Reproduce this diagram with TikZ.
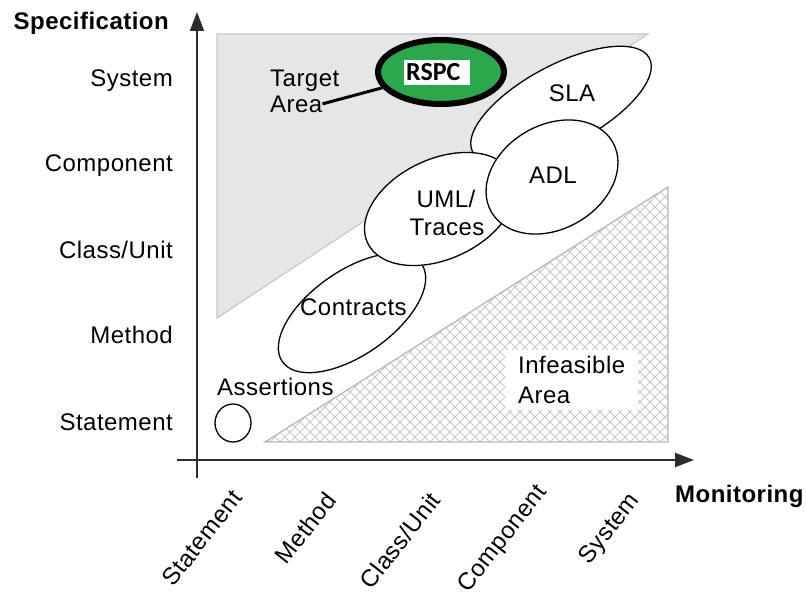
\documentclass[tikz,border=0pt]{standalone}
\usepackage{fontspec}
\setmainfont{Liberation Sans}[LetterSpace=2]
\newfontfamily\rspcfont{Carlito}
\usetikzlibrary{arrows.meta,shapes.geometric}

\definecolor{targetfill}{RGB}{230,230,230}
\definecolor{targetedge}{RGB}{200,200,200}
\definecolor{hatchgray}{RGB}{200,200,200}
\definecolor{infedge}{RGB}{185,185,185}
\definecolor{rspcgreen}{RGB}{43,168,74}
\definecolor{axisgray}{RGB}{45,45,45}

\begin{document}
\begin{tikzpicture}[x=1pt,y=-1pt,
  lbl/.style={font=\fontsize{24}{26}\selectfont, inner sep=0pt},
  boldlbl/.style={font=\fontsize{24}{26}\selectfont\bfseries, inner sep=0pt},
  axis/.style={draw=axisgray, line width=2pt, -{Triangle[length=19pt,width=14pt]}},
  blob/.style={draw=black, line width=1.3pt, fill=white},
  hatch/.style={draw=hatchgray, line width=0.9pt},
  xlbl/.style={lbl, rotate=52, anchor=north east}]

% canvas
\fill[white] (0,0) rectangle (806,594);
\useasboundingbox (0,0) rectangle (806,594);

% target area (upper grey triangle)
\filldraw[fill=targetfill, draw=targetedge, line width=1.2pt]
  (217,34) -- (648,34) -- (217,318) -- cycle;

% infeasible area (cross-hatched triangle)
\begin{scope}
  \clip (265,442) -- (668,442) -- (668,187) -- cycle;
  \foreach \a in {0,10,...,940} {
    \draw[hatch] (\a,442) -- ++(255,-255);
    \draw[hatch] (\a,442) -- ++(-255,-255);
  }
\end{scope}
\fill[white] (505,350) rectangle (638,410);
\draw[draw=infedge, line width=1.3pt] (265,442) -- (668,442) -- (668,187) -- cycle;

% axes
\coordinate (ybot) at (197,478);
\coordinate (ytop) at (197,12);
\coordinate (xleft) at (177,460);
\coordinate (xright) at (694,460);
\draw[axis] (ybot) -- (ytop);
\draw[axis] (xleft) -- (xright);

% axis titles
\node[boldlbl, anchor=base east] (spec) at (169,30) {Specification};
\node[boldlbl, anchor=base west] (mon) at (675,502) {Monitoring};

% specification levels
\node[lbl, anchor=base east] (ySys)  at (173,86)  {System};
\node[lbl, anchor=base east] (yComp) at (173,171) {Component};
\node[lbl, anchor=base east] (yCls)  at (173,258) {Class/Unit};
\node[lbl, anchor=base east] (yMeth) at (173,343) {Method};
\node[lbl, anchor=base east] (yStmt) at (173,430) {Statement};

% monitoring levels
\node[xlbl] (xStmt) at (230,488) {Statement};
\node[xlbl] (xMeth) at (324,490) {Method};
\node[xlbl] (xCls)  at (428,490) {Class/Unit};
\node[xlbl] (xComp) at (534,482) {Component};
\node[xlbl] (xSys)  at (627,490) {System};

% technique regions
\coordinate (assert) at (233,423);
\coordinate (contr) at (352,313);
\coordinate (sla) at (561,105);
\coordinate (uml) at (440,209);
\coordinate (adl) at (552,177);

\draw[blob] (assert) ellipse [x radius=18, y radius=19];
\draw[blob, rotate around={35:(contr)}] (contr) ellipse [x radius=85, y radius=42];
\draw[blob, rotate around={28:(sla)}] (sla) ellipse [x radius=100, y radius=40];
\draw[blob, rotate around={25:(uml)}] (uml) ellipse [x radius=80, y radius=50];
\draw[blob, rotate around={30:(adl)}] (adl) ellipse [x radius=70, y radius=52];

\node[lbl, anchor=base west] (assertlbl) at (217,395) {Assertions};
\node[lbl, anchor=base west] (contrlbl) at (300,315) {Contracts};
\node[lbl, anchor=base] (slalbl) at (572,102) {SLA};
\node[lbl, anchor=base] (adllbl) at (553,183) {ADL};
\node[lbl, anchor=base] (umllbl) at (446,207) {UML/};
\node[lbl, anchor=base] (traceslbl) at (447,235) {Traces};
\node[lbl, anchor=base west] (inflbl) at (518,373) {Infeasible};
\node[lbl, anchor=base west] (infarea) at (518,403) {Area};

% target area label and RSPC
\node[lbl, anchor=base west] (target) at (270,87) {Target};
\node[lbl, anchor=base west] (area) at (270,112) {Area};
\node[ellipse, draw=black, line width=6pt, fill=rspcgreen,
      minimum width=126pt, minimum height=64pt, inner sep=0pt] (rspc) at (441,72) {};
\node[fill=white, anchor=west, inner xsep=2pt, inner ysep=0pt,
      text width=62pt, minimum height=25pt, align=left,
      font=\rspcfont\bfseries\fontsize{26}{26}\selectfont] (rspclbl) at (404,72.5) {RSPC};
\draw[line width=3pt] (area.east) -- (rspc);

\end{tikzpicture}
\end{document}
